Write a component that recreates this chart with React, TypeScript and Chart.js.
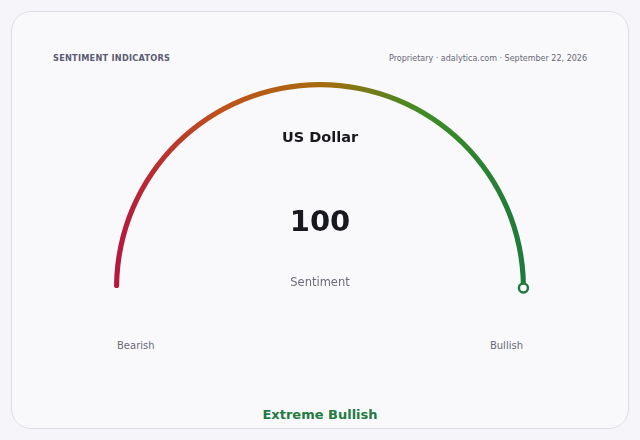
import { useEffect, useRef } from 'react'
import { Chart, registerables } from 'chart.js'

Chart.register(...registerables)

// gauge data
const gaugeLabels = ['Sentiment', 'Remaining']
const gaugeMin = 0
const gaugeMax = 100
const sentimentValue = 100
const gaugeColors = ['#b5163f', '#c0501c', '#a86a0c', '#3d8d23', '#1d7a3c']

// texts
const headerTitle = 'SENTIMENT INDICATORS'
const headerSource = 'Proprietary · adalytica.com · September 22, 2026'
const assetName = 'US Dollar'
const valueCaption = 'Sentiment'
const scaleEnds = ['Bearish', 'Bullish']
const verdict = 'Extreme Bullish'

const OUTER_R = 206
const FONT = '"DejaVu Sans", Verdana, sans-serif'

const markerPlugin = {
  id: 'valueMarker',
  afterDatasetsDraw(chart: any) {
    const arc: any = chart.getDatasetMeta(0).data[0]
    if (!arc) return
    const r = (arc.outerRadius + arc.innerRadius) / 2
    const px = arc.x + Math.cos(arc.endAngle) * r
    const py = arc.y + Math.sin(arc.endAngle) * r
    const ctx = chart.ctx
    ctx.save()
    ctx.beginPath()
    ctx.arc(px, py, 4.5, 0, Math.PI * 2)
    ctx.fillStyle = '#ffffff'
    ctx.fill()
    ctx.lineWidth = 2.5
    ctx.strokeStyle = '#1d7a3c'
    ctx.stroke()
    ctx.restore()
  }
}

export default function App() {
  const chartRef = useRef<HTMLCanvasElement>(null)
  const chartInstance = useRef<Chart | null>(null)

  useEffect(() => {
    if (!chartRef.current) return
    if (chartInstance.current) chartInstance.current.destroy()

    const filled = sentimentValue - gaugeMin
    const rest = gaugeMax - sentimentValue

    chartInstance.current = new Chart(chartRef.current, {
      type: 'doughnut',
      data: {
        labels: gaugeLabels,
        datasets: [{
          data: [filled, rest],
          backgroundColor: (c: any) => {
            if (c.dataIndex === 1) return 'transparent'
            const area = c.chart.chartArea
            if (!area) return gaugeColors[0]
            const cx = (area.left + area.right) / 2
            const g = c.chart.ctx.createLinearGradient(cx - OUTER_R, 0, cx + OUTER_R, 0)
            gaugeColors.forEach((col, i) => g.addColorStop(i / (gaugeColors.length - 1), col))
            return g
          },
          borderWidth: 0,
          borderRadius: 3
        }]
      },
      options: {
        animation: false,
        responsive: true,
        maintainAspectRatio: false,
        events: [],
        rotation: -90,
        circumference: 180,
        radius: OUTER_R,
        cutout: '97.5%',
        layout: { padding: 0 },
        plugins: {
          legend: { display: false },
          tooltip: { enabled: false },
          title: { display: false }
        }
      },
      plugins: [markerPlugin]
    })

    return () => {
      if (chartInstance.current) {
        chartInstance.current.destroy()
        chartInstance.current = null
      }
    }
  }, [])

  const text = (extra: React.CSSProperties): React.CSSProperties => ({
    position: 'absolute',
    fontFamily: FONT,
    whiteSpace: 'nowrap',
    lineHeight: 1,
    margin: 0,
    ...extra
  })

  return (
    <div style={{ position: 'fixed', inset: 0, background: '#f6f6fa' }}>
      <div style={{
        position: 'absolute', left: 11, top: 11, width: 616, height: 416,
        border: '1px solid #dedee8', borderRadius: 20, background: '#f9f9fc'
      }} />
      <div style={text({ left: 53, top: 54, fontSize: 8.2, fontWeight: 'bold', color: '#5b5b72', letterSpacing: 0.25 })}>
        {headerTitle}
      </div>
      <div style={text({ right: 53, top: 54.5, fontSize: 8, color: '#686876' })}>
        {headerSource}
      </div>
      <div style={{ position: 'absolute', left: 100, top: 65, width: 440, height: 240 }}>
        <canvas ref={chartRef} />
      </div>
      <div style={text({ left: 0, width: 640, textAlign: 'center', top: 130, fontSize: 14.5, fontWeight: 'bold', color: '#18181c' })}>
        {assetName}
      </div>
      <div style={text({ left: 0, width: 640, textAlign: 'center', top: 207, fontSize: 29, fontWeight: 'bold', color: '#18181f' })}>
        {sentimentValue}
      </div>
      <div style={text({ left: 0, width: 640, textAlign: 'center', top: 277, fontSize: 11.5, color: '#6c6c78' })}>
        {valueCaption}
      </div>
      <div style={text({ left: 117, top: 340.5, fontSize: 10, color: '#6a6a76' })}>
        {scaleEnds[0]}
      </div>
      <div style={text({ right: 117, top: 340.5, fontSize: 10, color: '#6a6a76' })}>
        {scaleEnds[1]}
      </div>
      <div style={text({ left: 0, width: 640, textAlign: 'center', top: 408, fontSize: 13, fontWeight: 'bold', color: '#237a42' })}>
        {verdict}
      </div>
    </div>
  )
}
